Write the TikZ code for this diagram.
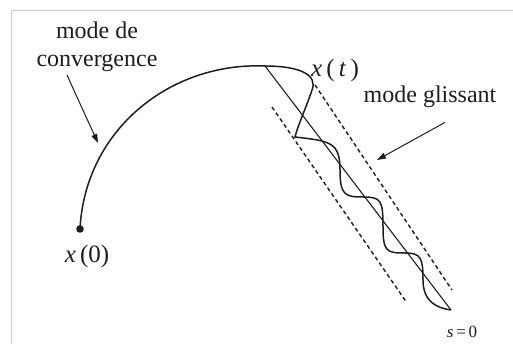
\documentclass[tikz,border=0pt]{standalone}
\usepackage{fontspec}
\setmainfont{Liberation Serif}
\usetikzlibrary{arrows.meta,positioning,calc}
\definecolor{ink}{HTML}{1E1E1E}
\definecolor{frame}{HTML}{CCCCCC}

\begin{document}
\begin{tikzpicture}[x=1pt,y=-1pt,>={Triangle[length=9pt,width=6pt]},
  lbl/.style={inner sep=0pt,text=ink,font=\fontsize{24}{28}\selectfont},
  mth/.style={inner sep=0pt,text=ink,font=\fontsize{25}{28}\selectfont},
  traj/.style={draw=ink,line width=1.5pt},
  band/.style={draw=ink,line width=1.4pt,dash pattern=on 4pt off 3pt},
  pointer/.style={->,draw=ink,line width=1pt}]
\useasboundingbox (0,0) rectangle (513,344);
\fill[white] (0,0) rectangle (513,344);
\draw[frame,line width=1.5pt] (11.5,344) -- (11.5,10.5) -- (513,10.5);
% points of the trajectory
\coordinate (top) at (265,66);
\coordinate (send) at (451,310);
\fill[ink] (80,229) circle (3.8pt) coordinate (x0);
% labels
\node[lbl,align=center] (convlabel) at (97,47) {mode de\\convergence};
\node[lbl,anchor=base] (glisslabel) at (430,103) {mode glissant};
\node[mth,anchor=base] (xt) at (335,77) {\textit{x}\,(\,\textit{t}\,)};
\node[mth,anchor=base] (xzero) at (87,262) {\textit{x}\,(0)};
\node[mth,anchor=base,font=\fontsize{17}{20}\selectfont] (surf) at (462,337) {\textit{s}\,=\,0};
% sliding surface and its band
\draw[draw=ink,line width=1.1pt] (top) -- (send);
\draw[band] (315,85) -- (452,290);
\draw[band] (272,107) -- (407,303);
% trajectory
\draw[traj] (x0) .. controls (85,130) and (170,62) .. (top)
  .. controls (300,66) and (318,75) .. (312,90)
  .. controls (306,108) and (298,125) .. (295,137)
  .. controls (330,141) and (340,142) .. (340,170)
  .. controls (340,195) and (345,197) .. (363,197)
  .. controls (381,197) and (383,200) .. (383,227)
  .. controls (383,252) and (387,253) .. (405,253)
  .. controls (421,253) and (423,258) .. (423,280)
  .. controls (423,302) and (437,308) .. (send);
% pointers
\coordinate (convtip) at (98,143);
\coordinate (glisstip) at (377,160);
\draw[pointer] ([xshift=-30pt,yshift=-3pt]convlabel.south) -- (convtip);
\draw[pointer] ([xshift=15pt,yshift=-14pt]glisslabel.south) -- (glisstip);
\end{tikzpicture}
\end{document}
